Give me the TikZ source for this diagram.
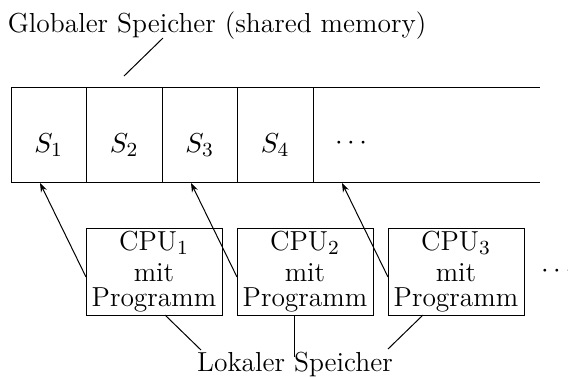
\documentclass[tikz,border=0pt]{standalone}
\usetikzlibrary{arrows.meta}
\begin{document}
\begin{tikzpicture}[x=0.4pt,y=-0.4pt,line width=0.4pt,
  font=\fontsize{11}{10.2}\selectfont,
  cell/.style={draw,minimum width=30.2pt,minimum height=38pt,inner sep=0pt,outer sep=0pt,
    text height=14pt,text depth=0pt,anchor=north west},
  cpubox/.style={draw,minimum width=54.4pt,minimum height=34.8pt,inner sep=0.3pt,outer sep=0pt,
    align=center,anchor=north west},
  access/.style={-{Stealth[length=3.6pt,width=2.6pt]}},
  leader/.style={}]
\useasboundingbox (0,0) rectangle (568,376);
\clip (0,0) rectangle (568,376);

% shared memory strip
\node[cell] (s1) at (11,87) {$S_1$};
\node[cell] (s2) at (s1.north east) {$S_2$};
\node[cell] (s3) at (s2.north east) {$S_3$};
\node[cell] (s4) at (s3.north east) {$S_4$};
\coordinate (rt) at (s4.north east -| 540,0);
\coordinate (rb) at (s4.south east -| 540,0);
\draw (s4.north east) -- (rt);
\draw (s4.south east) -- (rb);
\node (more) at (351,143) {$\cdots$};

\node[anchor=base] (global) at (217,32) {Globaler Speicher (shared memory)};
\coordinate (gl1) at (163,38);
\coordinate (gl2) at (124,76);
\draw[leader] (gl1) -- (gl2);

% processors with local memory
\node[cpubox] (c1) at (86,228) {CPU$_1$\\[2.2pt]mit\\Programm};
\node[cpubox] (c2) at (237,228) {CPU$_2$\\[2.2pt]mit\\Programm};
\node[cpubox] (c3) at (388,228) {CPU$_3$\\[2.2pt]mit\\Programm};
\node (cmore) at (557,271) {$\cdots$};

\coordinate (t1) at (40,183);
\coordinate (t2) at (191,183);
\coordinate (t3) at (342,183);
\draw[access] (c1.west |- 0,277) -- (t1);
\draw[access] (c2.west |- 0,277) -- (t2);
\draw[access] (c3.west |- 0,277) -- (t3);

\node[anchor=base] (local) at (295,371) {Lokaler Speicher};
\coordinate (l1) at (201,350);
\coordinate (l2) at (294,357);
\coordinate (l3) at (388,349);
\draw[leader] (c1.south -| 165,0) -- (l1);
\draw[leader] (c2.south -| 294,0) -- (l2);
\draw[leader] (c3.south -| 423,0) -- (l3);
\end{tikzpicture}
\end{document}
